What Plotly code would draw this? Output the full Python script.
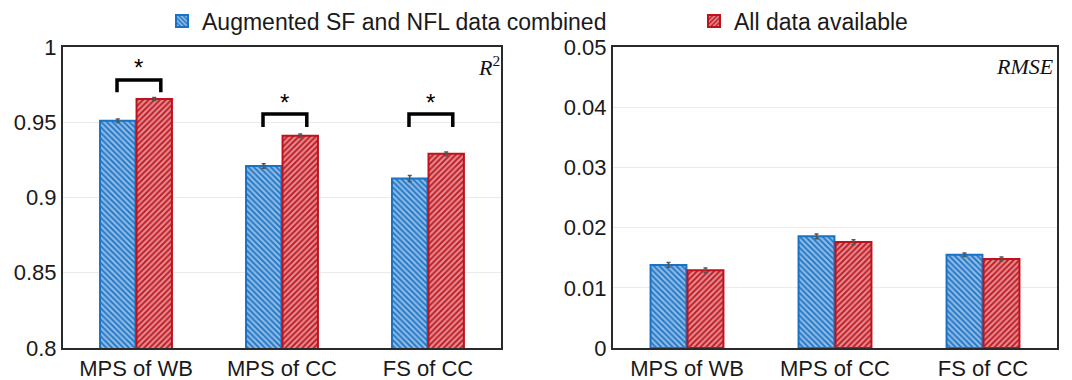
import plotly.graph_objects as go
from plotly.subplots import make_subplots

categories = ["MPS of WB", "MPS of CC", "FS of CC"]
series_names = ["Augmented SF and NFL data combined", "All data available"]

r2_aug = [0.951, 0.921, 0.9127]
r2_aug_err = [0.0012, 0.0015, 0.0020]
r2_all = [0.9655, 0.941, 0.929]
r2_all_err = [0.0010, 0.0012, 0.0013]

rmse_aug = [0.0138, 0.01855, 0.0155]
rmse_aug_err = [0.0004, 0.0004, 0.0003]
rmse_all = [0.0129, 0.0176, 0.0148]
rmse_all_err = [0.0004, 0.0004, 0.0003]

r2_ticks = [0.8, 0.85, 0.9, 0.95, 1.0]
r2_tick_labels = ["0.8", "0.85", "0.9", "0.95", "1"]
rmse_ticks = [0, 0.01, 0.02, 0.03, 0.04, 0.05]
rmse_tick_labels = ["0", "0.01", "0.02", "0.03", "0.04", "0.05"]

# significance markers on the R2 panel (category index, bracket level, leg bottom, star level)
sig_index = [0, 1, 2]
sig_bracket = [0.978, 0.9555, 0.9555]
sig_leg_bottom = [0.970, 0.9468, 0.9468]
sig_star = [0.9867, 0.9628, 0.9628]

BLUE = "#1a72c6"
RED = "#c0121b"
FONT = "Liberation Sans, Arial, sans-serif"

fig = make_subplots(rows=1, cols=2, horizontal_spacing=0.1127)


def add_bar(name, y, err, color, shape, col, legend, show):
    fig.add_trace(go.Bar(
        x=categories, y=y, name=name, legend=legend, showlegend=show,
        marker=dict(color=color, line=dict(color=color, width=2),
                    pattern=dict(shape=shape, fillmode="overlay", fgcolor="white",
                                 size=4, solidity=0.58)),
        error_y=dict(type="data", array=err, color="#555555", thickness=1.5, width=2),
    ), row=1, col=col)


add_bar(series_names[0], r2_aug, r2_aug_err, BLUE, "\\", 1, "legend", True)
add_bar(series_names[1], r2_all, r2_all_err, RED, "/", 1, "legend2", True)
add_bar(series_names[0], rmse_aug, rmse_aug_err, BLUE, "\\", 2, "legend", False)
add_bar(series_names[1], rmse_all, rmse_all_err, RED, "/", 2, "legend2", False)

axis_common = dict(showline=True, mirror=True, linecolor="#2a2a2a", linewidth=2,
                   ticks="", tickfont=dict(size=22, color="#1a1a1a", family=FONT))
fig.update_xaxes(**axis_common, showgrid=False)
fig.update_yaxes(**axis_common, showgrid=True, gridcolor="#ebebeb", gridwidth=1,
                 zeroline=False)
fig.update_yaxes(range=[0.8, 1.0], tickvals=r2_ticks, ticktext=r2_tick_labels, row=1, col=1)
fig.update_yaxes(range=[0, 0.05], tickvals=rmse_ticks, ticktext=rmse_tick_labels, row=1, col=2)
fig.update_xaxes(domain=[0, 0.4406], row=1, col=1)
fig.update_xaxes(domain=[0.5533, 1.0], row=1, col=2)

# significance brackets
for i, top, bot, star in zip(sig_index, sig_bracket, sig_leg_bottom, sig_star):
    x0, x1 = i - 0.13, i + 0.17
    fig.add_shape(type="path",
                  path=f"M {x0},{bot} L {x0},{top} L {x1},{top} L {x1},{bot}",
                  xref="x", yref="y", line=dict(color="black", width=3.5))
    fig.add_annotation(x=(x0 + x1) / 2, y=star, xref="x", yref="y", text="*",
                       showarrow=False, yanchor="middle",
                       font=dict(size=24, color="black", family=FONT))

fig.add_annotation(x=1, y=1, xref="x domain", yref="y domain", text="<i>R</i><sup>2</sup>",
                   showarrow=False, xanchor="right", yanchor="top", xshift=1, yshift=-3,
                   font=dict(size=22, color="#111111", family="Liberation Serif, Times New Roman, serif"))
fig.add_annotation(x=1, y=1, xref="x2 domain", yref="y2 domain", text="<i>RMSE</i>",
                   showarrow=False, xanchor="right", yanchor="top", xshift=-1, yshift=-5,
                   font=dict(size=22, color="#111111", family="Liberation Serif, Times New Roman, serif"))

legend_style = dict(orientation="h", yanchor="middle", y=1.086, xanchor="left",
                    bgcolor="rgba(0,0,0,0)", font=dict(size=23, color="#1a1a1a", family=FONT))

fig.update_layout(
    width=1072, height=380,
    margin=dict(l=63, r=15, t=47, b=32, autoexpand=False),
    paper_bgcolor="white", plot_bgcolor="white",
    barmode="group", bargap=0.5, bargroupgap=0.03,
    legend=dict(**legend_style, x=0.0996),
    legend2=dict(**legend_style, x=0.6348),
    font=dict(family=FONT),
)

fig.write_html("out.html", config={"displayModeBar": False},
               post_script="document.body.style.margin='0';document.body.style.overflow='hidden';")
